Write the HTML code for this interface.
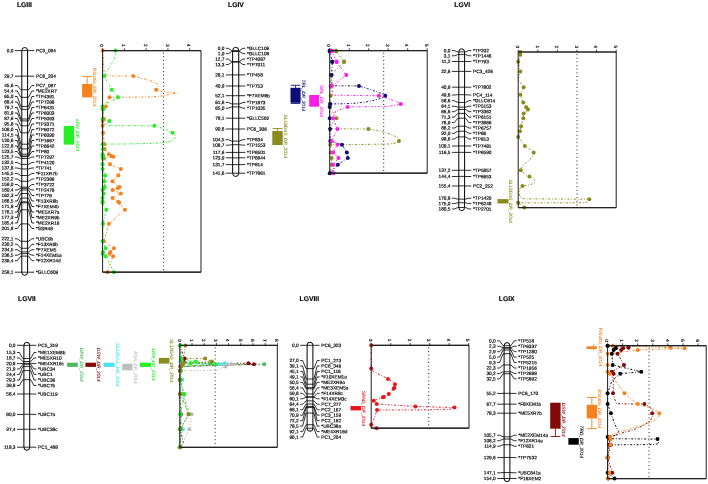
<!DOCTYPE html>
<html><head><meta charset="utf-8"><title>QTL linkage map</title>
<style>
html,body{margin:0;padding:0;background:#fff}
svg{display:block}
svg text{text-rendering:geometricPrecision}
</style></head>
<body>
<svg width="708" height="484" viewBox="0 0 708 484">
<defs><filter id="soft" filterUnits="userSpaceOnUse" x="0" y="0" width="708" height="484" color-interpolation-filters="sRGB"><feGaussianBlur stdDeviation="0.3"/></filter></defs>
<rect width="708" height="484" fill="#fff"/>
<g filter="url(#soft)" font-family='"Liberation Sans", Arial, Helvetica, sans-serif' font-size="4.75" fill="#000" stroke="#000" stroke-width="0">
<text x="16.9" y="6.7" font-size="6.8" font-weight="bold" stroke-width="0.15">LGIII</text>
<path d="M21.8 50.6 A2.9 3.1 0 0 1 27.6 50.6 V272.2 A2.9 3.1 0 0 1 21.8 272.2 Z" fill="#fff" stroke="#000" stroke-width="1.0"/>
<path d="M21.8 50.6H27.6M14.9 50.6H21.8M27.6 50.6H34.3M21.8 76.1H27.6M14.9 76.2H21.8M27.6 76.2H34.3M21.8 89.75H27.6M14.9 85.5H17.3L20.8 89.75H21.8M27.6 89.75H28.6L31.9 85.5H34.3M21.8 97.31H27.6M14.9 91H17.3L20.8 97.31H21.8M27.6 97.31H28.6L31.9 91H34.3M21.8 106.41H27.6M14.9 96.5H17.3L20.8 106.41H21.8M27.6 106.41H28.6L31.9 96.5H34.3M21.8 109.33H27.6M14.9 102H17.3L20.8 109.33H21.8M27.6 109.33H28.6L31.9 102H34.3M21.8 119.03H27.6M14.9 107.5H17.3L20.8 119.03H21.8M27.6 119.03H28.6L31.9 107.5H34.3M21.8 120.92H27.6M14.9 113H17.3L20.8 120.92H21.8M27.6 120.92H28.6L31.9 113H34.3M21.8 125.81H27.6M14.9 118.5H17.3L20.8 125.81H21.8M27.6 125.81H28.6L31.9 118.5H34.3M21.8 132.85H27.6M14.9 124H17.3L20.8 132.85H21.8M27.6 132.85H28.6L31.9 124H34.3M21.8 144.19H27.6M14.9 129.5H17.3L20.8 144.19H21.8M27.6 144.19H28.6L31.9 129.5H34.3M21.8 148.91H27.6M14.9 135H17.3L20.8 148.91H21.8M27.6 148.91H28.6L31.9 135H34.3M21.8 154.14H27.6M14.9 140.5H17.3L20.8 154.14H21.8M27.6 154.14H28.6L31.9 140.5H34.3M21.8 156.03H27.6M14.9 146H17.3L20.8 156.03H21.8M27.6 156.03H28.6L31.9 146H34.3M21.8 156.63H27.6M14.9 151.5H17.3L20.8 156.63H21.8M27.6 156.63H28.6L31.9 151.5H34.3M21.8 158.52H27.6M14.9 157H17.3L20.8 158.52H21.8M27.6 158.52H28.6L31.9 157H34.3M21.8 164.36H27.6M14.9 162.5H17.3L20.8 164.36H21.8M27.6 164.36H28.6L31.9 162.5H34.3M21.8 168.91H27.6M14.9 168H17.3L20.8 168.91H21.8M27.6 168.91H28.6L31.9 168H34.3M21.8 175.52H27.6M14.9 173.5H17.3L20.8 175.52H21.8M27.6 175.52H28.6L31.9 173.5H34.3M21.8 181.28H27.6M14.9 179H17.3L20.8 181.28H21.8M27.6 181.28H28.6L31.9 179H34.3M21.8 187.11H27.6M14.9 184.5H17.3L20.8 187.11H21.8M27.6 187.11H28.6L31.9 184.5H34.3M21.8 188.32H27.6M14.9 190H17.3L20.8 188.32H21.8M27.6 188.32H28.6L31.9 190H34.3M21.8 189.95H27.6M14.9 195.5H17.3L20.8 189.95H21.8M27.6 189.95H28.6L31.9 195.5H34.3M21.8 193.55H27.6M14.9 201H17.3L20.8 193.55H21.8M27.6 193.55H28.6L31.9 201H34.3M21.8 198.1H27.6M14.9 206.5H17.3L20.8 198.1H21.8M27.6 198.1H28.6L31.9 206.5H34.3M21.8 201.8H27.6M14.9 212H17.3L20.8 201.8H21.8M27.6 201.8H28.6L31.9 212H34.3M21.8 202.83H27.6M14.9 217.5H17.3L20.8 202.83H21.8M27.6 202.83H28.6L31.9 217.5H34.3M21.8 209.78H27.6M14.9 223H17.3L20.8 209.78H21.8M27.6 209.78H28.6L31.9 223H34.3M21.8 223.86H27.6M14.9 228.5H17.3L20.8 223.86H21.8M27.6 223.86H28.6L31.9 228.5H34.3M21.8 241.29H27.6M14.9 238.8H17.3L20.8 241.29H21.8M27.6 241.29H28.6L31.9 238.8H34.3M21.8 248.25H27.6M14.9 244.27H17.3L20.8 248.25H21.8M27.6 248.25H28.6L31.9 244.27H34.3M21.8 251.94H27.6M14.9 249.74H17.3L20.8 251.94H21.8M27.6 251.94H28.6L31.9 249.74H34.3M21.8 253.65H27.6M14.9 255.21H17.3L20.8 253.65H21.8M27.6 253.65H28.6L31.9 255.21H34.3M21.8 256.14H27.6M14.9 260.68H17.3L20.8 256.14H21.8M27.6 256.14H28.6L31.9 260.68H34.3M21.8 272.2H27.6M14.9 272.2H21.8M27.6 272.2H34.3" fill="none" stroke="#000" stroke-width="0.82" stroke-linejoin="round"/>
<text x="13.4" y="52.22" transform="rotate(0.2 13.4 52.22)" text-anchor="end" stroke-width="0.18">0,0</text>
<text x="36" y="52.22" transform="rotate(0.2 36 52.22)" stroke-width="0.18">PC3_094</text>
<text x="13.4" y="77.82" transform="rotate(0.2 13.4 77.82)" text-anchor="end" stroke-width="0.18">29,7</text>
<text x="36" y="77.82" transform="rotate(0.2 36 77.82)" stroke-width="0.18">PC6_204</text>
<text x="13.4" y="87.12" transform="rotate(0.2 13.4 87.12)" text-anchor="end" stroke-width="0.18">45,6</text>
<text x="36" y="87.12" transform="rotate(0.2 36 87.12)" stroke-width="0.18">PC7_087</text>
<text x="13.4" y="92.62" transform="rotate(0.2 13.4 92.62)" text-anchor="end" stroke-width="0.18">54,4</text>
<text x="36" y="92.62" transform="rotate(0.2 36 92.62)" stroke-width="0.18">*ME2XR7</text>
<text x="13.4" y="98.12" transform="rotate(0.2 13.4 98.12)" text-anchor="end" stroke-width="0.18">65,0</text>
<text x="36" y="98.12" transform="rotate(0.2 36 98.12)" stroke-width="0.18">*TP4391</text>
<text x="13.4" y="103.62" transform="rotate(0.2 13.4 103.62)" text-anchor="end" stroke-width="0.18">68,4</text>
<text x="36" y="103.62" transform="rotate(0.2 36 103.62)" stroke-width="0.18">*TP7288</text>
<text x="13.4" y="109.12" transform="rotate(0.2 13.4 109.12)" text-anchor="end" stroke-width="0.18">79,7</text>
<text x="36" y="109.12" transform="rotate(0.2 36 109.12)" stroke-width="0.18">*TP6431</text>
<text x="13.4" y="114.62" transform="rotate(0.2 13.4 114.62)" text-anchor="end" stroke-width="0.18">81,9</text>
<text x="36" y="114.62" transform="rotate(0.2 36 114.62)" stroke-width="0.18">*TP6003</text>
<text x="13.4" y="120.12" transform="rotate(0.2 13.4 120.12)" text-anchor="end" stroke-width="0.18">87,6</text>
<text x="36" y="120.12" transform="rotate(0.2 36 120.12)" stroke-width="0.18">*TP5093</text>
<text x="13.4" y="125.62" transform="rotate(0.2 13.4 125.62)" text-anchor="end" stroke-width="0.18">95,8</text>
<text x="36" y="125.62" transform="rotate(0.2 36 125.62)" stroke-width="0.18">*TP3371</text>
<text x="13.4" y="131.12" transform="rotate(0.2 13.4 131.12)" text-anchor="end" stroke-width="0.18">109,0</text>
<text x="36" y="131.12" transform="rotate(0.2 36 131.12)" stroke-width="0.18">*TP6072</text>
<text x="13.4" y="136.62" transform="rotate(0.2 13.4 136.62)" text-anchor="end" stroke-width="0.18">114,5</text>
<text x="36" y="136.62" transform="rotate(0.2 36 136.62)" stroke-width="0.18">*TP6090</text>
<text x="13.4" y="142.12" transform="rotate(0.2 13.4 142.12)" text-anchor="end" stroke-width="0.18">120,6</text>
<text x="36" y="142.12" transform="rotate(0.2 36 142.12)" stroke-width="0.18">*TP1667</text>
<text x="13.4" y="147.62" transform="rotate(0.2 13.4 147.62)" text-anchor="end" stroke-width="0.18">122,8</text>
<text x="36" y="147.62" transform="rotate(0.2 36 147.62)" stroke-width="0.18">*TP6642</text>
<text x="13.4" y="153.12" transform="rotate(0.2 13.4 153.12)" text-anchor="end" stroke-width="0.18">123,5</text>
<text x="36" y="153.12" transform="rotate(0.2 36 153.12)" stroke-width="0.18">*TP80</text>
<text x="13.4" y="158.62" transform="rotate(0.2 13.4 158.62)" text-anchor="end" stroke-width="0.18">125,7</text>
<text x="36" y="158.62" transform="rotate(0.2 36 158.62)" stroke-width="0.18">*TP7297</text>
<text x="13.4" y="164.12" transform="rotate(0.2 13.4 164.12)" text-anchor="end" stroke-width="0.18">132,5</text>
<text x="36" y="164.12" transform="rotate(0.2 36 164.12)" stroke-width="0.18">*TP4120</text>
<text x="13.4" y="169.62" transform="rotate(0.2 13.4 169.62)" text-anchor="end" stroke-width="0.18">137,8</text>
<text x="36" y="169.62" transform="rotate(0.2 36 169.62)" stroke-width="0.18">*TP741</text>
<text x="13.4" y="175.12" transform="rotate(0.2 13.4 175.12)" text-anchor="end" stroke-width="0.18">145,5</text>
<text x="36" y="175.12" transform="rotate(0.2 36 175.12)" stroke-width="0.18">*F11XR7b</text>
<text x="13.4" y="180.62" transform="rotate(0.2 13.4 180.62)" text-anchor="end" stroke-width="0.18">152,2</text>
<text x="36" y="180.62" transform="rotate(0.2 36 180.62)" stroke-width="0.18">*TP2386</text>
<text x="13.4" y="186.12" transform="rotate(0.2 13.4 186.12)" text-anchor="end" stroke-width="0.18">159,0</text>
<text x="36" y="186.12" transform="rotate(0.2 36 186.12)" stroke-width="0.18">*TP3722</text>
<text x="13.4" y="191.62" transform="rotate(0.2 13.4 191.62)" text-anchor="end" stroke-width="0.18">160,4</text>
<text x="36" y="191.62" transform="rotate(0.2 36 191.62)" stroke-width="0.18">*TP2478</text>
<text x="13.4" y="197.12" transform="rotate(0.2 13.4 197.12)" text-anchor="end" stroke-width="0.18">162,3</text>
<text x="36" y="197.12" transform="rotate(0.2 36 197.12)" stroke-width="0.18">*TP776</text>
<text x="13.4" y="202.62" transform="rotate(0.2 13.4 202.62)" text-anchor="end" stroke-width="0.18">166,5</text>
<text x="36" y="202.62" transform="rotate(0.2 36 202.62)" stroke-width="0.18">*F13XR8b</text>
<text x="13.4" y="208.12" transform="rotate(0.2 13.4 208.12)" text-anchor="end" stroke-width="0.18">171,8</text>
<text x="36" y="208.12" transform="rotate(0.2 36 208.12)" stroke-width="0.18">*F7XEM4b</text>
<text x="13.4" y="213.62" transform="rotate(0.2 13.4 213.62)" text-anchor="end" stroke-width="0.18">176,1</text>
<text x="36" y="213.62" transform="rotate(0.2 36 213.62)" stroke-width="0.18">*ME5XR7a</text>
<text x="13.4" y="219.12" transform="rotate(0.2 13.4 219.12)" text-anchor="end" stroke-width="0.18">177,3</text>
<text x="36" y="219.12" transform="rotate(0.2 36 219.12)" stroke-width="0.18">*ME2XR9b</text>
<text x="13.4" y="224.62" transform="rotate(0.2 13.4 224.62)" text-anchor="end" stroke-width="0.18">185,4</text>
<text x="36" y="224.62" transform="rotate(0.2 36 224.62)" stroke-width="0.18">*ME2XR16</text>
<text x="13.4" y="230.12" transform="rotate(0.2 13.4 230.12)" text-anchor="end" stroke-width="0.18">201,8</text>
<text x="36" y="230.12" transform="rotate(0.2 36 230.12)" stroke-width="0.18">*SSR48</text>
<text x="13.4" y="240.42" transform="rotate(0.2 13.4 240.42)" text-anchor="end" stroke-width="0.18">222,1</text>
<text x="36" y="240.42" transform="rotate(0.2 36 240.42)" stroke-width="0.18">*UBC9b</text>
<text x="13.4" y="245.89" transform="rotate(0.2 13.4 245.89)" text-anchor="end" stroke-width="0.18">230,2</text>
<text x="36" y="245.89" transform="rotate(0.2 36 245.89)" stroke-width="0.18">*F13XR9b</text>
<text x="13.4" y="251.36" transform="rotate(0.2 13.4 251.36)" text-anchor="end" stroke-width="0.18">234,5</text>
<text x="36" y="251.36" transform="rotate(0.2 36 251.36)" stroke-width="0.18">*F7XEM5</text>
<text x="13.4" y="256.83" transform="rotate(0.2 13.4 256.83)" text-anchor="end" stroke-width="0.18">236,5</text>
<text x="36" y="256.83" transform="rotate(0.2 36 256.83)" stroke-width="0.18">*F14XEM5a</text>
<text x="13.4" y="262.3" transform="rotate(0.2 13.4 262.3)" text-anchor="end" stroke-width="0.18">239,4</text>
<text x="36" y="262.3" transform="rotate(0.2 36 262.3)" stroke-width="0.18">*F12XR14d</text>
<text x="13.4" y="273.82" transform="rotate(0.2 13.4 273.82)" text-anchor="end" stroke-width="0.18">258,1</text>
<text x="36" y="273.82" transform="rotate(0.2 36 273.82)" stroke-width="0.18">*GLLC609</text>
<path d="M87.15 84V76.5M82.4 76.5H91.9" stroke="#F5821F" stroke-width="0.9" fill="none"/>
<rect x="82.1" y="84" width="10.1" height="13.4" fill="#F5821F"/>
<text transform="translate(93.4 87) rotate(90)" text-anchor="middle" font-style="italic" font-size="4.75" fill="#F5821F" stroke="#F5821F" stroke-width="0.08">RSratio_DR_2014</text>
<rect x="63.7" y="125.9" width="10.3" height="18.7" fill="#24F024"/>
<text transform="translate(75.6 135.3) rotate(90)" text-anchor="middle" font-style="italic" font-size="4.75" fill="#24F024" stroke="#24F024" stroke-width="0.08">LRN_DR_2014</text>
<path d="M163.56 52.6V271.2" stroke="#111" stroke-width="0.95" stroke-dasharray="1 2.67" fill="none"/>
<path d="M102.6 50.6L104.34 74.64L113.48 75.93L133.3 76.1L143.96 78.93L152.67 81.51L157.46 83.91L158.11 86.66L156.15 89.75L159.64 90.95L167.91 92.24L177.27 93.01L170.09 94.39L163.56 95.85L150.49 96.96L128.72 97.22L109.57 97.31L106.95 102.11L105.87 106.41L102.6 109.33L103.91 119.03L102.6 120.92L102.6 125.81L103.04 132.85L104.56 144.19L104.56 148.91L108.91 154.14L111.31 156.03L113.48 156.63L104.12 158.52L110 164.36L120.89 168.91L118.27 175.52L112.4 181.28L119.58 187.11L117.84 188.32L112.61 189.95L120.89 193.55L112.61 198.1L118.27 201.8L119.15 202.83L125.02 209.78L108.91 223.86L103.91 241.29L113.92 248.25L110.44 251.94L109.57 253.65L113.05 256.14L107.39 272.2" fill="none" stroke="#F5821F" stroke-width="0.95" stroke-dasharray="2.1 1.7 0.9 1.7" stroke-linejoin="round"/>
<path d="M115.44 50.6L115.66 54.03L114.79 57.47L113.48 60.9L110.87 65.2L108.26 69.49L105.87 72.92L104.34 76.1L105.87 79.79L108.04 83.23L110 86.66L111.74 89.75L115.23 93.53L118.06 97.31L116.1 98.68L110.87 101.26L105.87 103.83L102.6 106.41L103.25 109.33L102.6 119.03L109.35 120.92L104.34 124.44L109.13 125.64L154.41 125.81L161.38 127.87L167.26 130.02L172.48 132.85L174.44 134.74L175.31 136.89L174.44 139.03L172.26 140.75L165.73 142.3L152.67 143.33L128.72 143.93L102.6 144.19L103.04 148.91L102.6 154.14L103.25 156.03L102.6 156.63L103.04 158.52L102.6 164.36L102.6 168.91L105.21 175.52L104.34 181.28L104.78 187.11L103.69 188.32L102.6 189.95L103.69 193.55L102.6 198.1L102.6 201.8L102.6 202.83L106.3 209.78L103.04 223.86L102.6 241.29L105.65 248.25L103.04 251.94L102.6 253.65L105.65 256.14L113.92 272.2" fill="none" stroke="#24F024" stroke-width="0.95" stroke-dasharray="2.1 1.7 0.9 1.7" stroke-linejoin="round"/>
<circle cx="102.6" cy="50.6" r="2.0" fill="#F5821F"/>
<circle cx="133.3" cy="76.1" r="2.0" fill="#F5821F"/>
<circle cx="156.15" cy="89.75" r="2.0" fill="#F5821F"/>
<circle cx="109.57" cy="97.31" r="2.0" fill="#F5821F"/>
<circle cx="105.87" cy="106.41" r="2.0" fill="#F5821F"/>
<circle cx="102.6" cy="109.33" r="2.0" fill="#F5821F"/>
<circle cx="103.91" cy="119.03" r="2.0" fill="#F5821F"/>
<circle cx="102.6" cy="120.92" r="2.0" fill="#F5821F"/>
<circle cx="102.6" cy="125.81" r="2.0" fill="#F5821F"/>
<circle cx="103.04" cy="132.85" r="2.0" fill="#F5821F"/>
<circle cx="104.56" cy="144.19" r="2.0" fill="#F5821F"/>
<circle cx="104.56" cy="148.91" r="2.0" fill="#F5821F"/>
<circle cx="108.91" cy="154.14" r="2.0" fill="#F5821F"/>
<circle cx="111.31" cy="156.03" r="2.0" fill="#F5821F"/>
<circle cx="113.48" cy="156.63" r="2.0" fill="#F5821F"/>
<circle cx="104.12" cy="158.52" r="2.0" fill="#F5821F"/>
<circle cx="110" cy="164.36" r="2.0" fill="#F5821F"/>
<circle cx="120.89" cy="168.91" r="2.0" fill="#F5821F"/>
<circle cx="118.27" cy="175.52" r="2.0" fill="#F5821F"/>
<circle cx="112.4" cy="181.28" r="2.0" fill="#F5821F"/>
<circle cx="119.58" cy="187.11" r="2.0" fill="#F5821F"/>
<circle cx="117.84" cy="188.32" r="2.0" fill="#F5821F"/>
<circle cx="112.61" cy="189.95" r="2.0" fill="#F5821F"/>
<circle cx="120.89" cy="193.55" r="2.0" fill="#F5821F"/>
<circle cx="112.61" cy="198.1" r="2.0" fill="#F5821F"/>
<circle cx="118.27" cy="201.8" r="2.0" fill="#F5821F"/>
<circle cx="119.15" cy="202.83" r="2.0" fill="#F5821F"/>
<circle cx="125.02" cy="209.78" r="2.0" fill="#F5821F"/>
<circle cx="108.91" cy="223.86" r="2.0" fill="#F5821F"/>
<circle cx="103.91" cy="241.29" r="2.0" fill="#F5821F"/>
<circle cx="113.92" cy="248.25" r="2.0" fill="#F5821F"/>
<circle cx="110.44" cy="251.94" r="2.0" fill="#F5821F"/>
<circle cx="109.57" cy="253.65" r="2.0" fill="#F5821F"/>
<circle cx="113.05" cy="256.14" r="2.0" fill="#F5821F"/>
<circle cx="107.39" cy="272.2" r="2.0" fill="#F5821F"/>
<circle cx="115.44" cy="50.6" r="2.0" fill="#24F024"/>
<circle cx="104.34" cy="76.1" r="2.0" fill="#24F024"/>
<circle cx="111.74" cy="89.75" r="2.0" fill="#24F024"/>
<circle cx="118.06" cy="97.31" r="2.0" fill="#24F024"/>
<circle cx="102.6" cy="106.41" r="2.0" fill="#24F024"/>
<circle cx="103.25" cy="109.33" r="2.0" fill="#24F024"/>
<circle cx="102.6" cy="119.03" r="2.0" fill="#24F024"/>
<circle cx="109.35" cy="120.92" r="2.0" fill="#24F024"/>
<circle cx="154.41" cy="125.81" r="2.0" fill="#24F024"/>
<circle cx="172.48" cy="132.85" r="2.0" fill="#24F024"/>
<circle cx="102.6" cy="144.19" r="2.0" fill="#24F024"/>
<circle cx="103.04" cy="148.91" r="2.0" fill="#24F024"/>
<circle cx="102.6" cy="154.14" r="2.0" fill="#24F024"/>
<circle cx="103.25" cy="156.03" r="2.0" fill="#24F024"/>
<circle cx="102.6" cy="156.63" r="2.0" fill="#24F024"/>
<circle cx="103.04" cy="158.52" r="2.0" fill="#24F024"/>
<circle cx="102.6" cy="164.36" r="2.0" fill="#24F024"/>
<circle cx="102.6" cy="168.91" r="2.0" fill="#24F024"/>
<circle cx="105.21" cy="175.52" r="2.0" fill="#24F024"/>
<circle cx="104.34" cy="181.28" r="2.0" fill="#24F024"/>
<circle cx="104.78" cy="187.11" r="2.0" fill="#24F024"/>
<circle cx="103.69" cy="188.32" r="2.0" fill="#24F024"/>
<circle cx="102.6" cy="189.95" r="2.0" fill="#24F024"/>
<circle cx="103.69" cy="193.55" r="2.0" fill="#24F024"/>
<circle cx="102.6" cy="198.1" r="2.0" fill="#24F024"/>
<circle cx="102.6" cy="201.8" r="2.0" fill="#24F024"/>
<circle cx="102.6" cy="202.83" r="2.0" fill="#24F024"/>
<circle cx="106.3" cy="209.78" r="2.0" fill="#24F024"/>
<circle cx="103.04" cy="223.86" r="2.0" fill="#24F024"/>
<circle cx="102.6" cy="241.29" r="2.0" fill="#24F024"/>
<circle cx="105.65" cy="248.25" r="2.0" fill="#24F024"/>
<circle cx="103.04" cy="251.94" r="2.0" fill="#24F024"/>
<circle cx="102.6" cy="253.65" r="2.0" fill="#24F024"/>
<circle cx="105.65" cy="256.14" r="2.0" fill="#24F024"/>
<circle cx="113.92" cy="272.2" r="2.0" fill="#24F024"/>
<path d="M102.6 50.6H201V272.2H102.6Z" fill="none" stroke="#111" stroke-width="0.95"/>
<path d="M102.6 50.6H201M102.6 272.2H201" fill="none" stroke="#222" stroke-width="1.2"/>
<text transform="translate(100.3 45.4) rotate(90)" text-anchor="middle" font-size="4.7" stroke-width="0.15">0</text>
<text transform="translate(122.07 45.4) rotate(90)" text-anchor="middle" font-size="4.7" stroke-width="0.15">1</text>
<text transform="translate(143.84 45.4) rotate(90)" text-anchor="middle" font-size="4.7" stroke-width="0.15">2</text>
<text transform="translate(165.61 45.4) rotate(90)" text-anchor="middle" font-size="4.7" stroke-width="0.15">3</text>
<text transform="translate(187.38 45.4) rotate(90)" text-anchor="middle" font-size="4.7" stroke-width="0.15">4</text>
<path d="M102.6 50.6v-2.3M124.37 50.6v-2.3M146.14 50.6v-2.3M167.91 50.6v-2.3M189.68 50.6v-2.3" stroke="#111" stroke-width="0.8" fill="none"/>
<text x="228" y="6.7" font-size="6.8" font-weight="bold" stroke-width="0.15">LGIV</text>
<path d="M232.65 50.6 A3.05 3.25 0 0 1 238.75 50.6 V173.2 A3.05 3.25 0 0 1 232.65 173.2 Z" fill="#fff" stroke="#000" stroke-width="1.0"/>
<path d="M232.65 50.6H238.75M225.9 48.3H228.3L231.8 50.6H232.65M238.75 50.6H239.6L242.9 48.3H245.3M232.65 51.47H238.75M225.9 53.6H228.3L231.8 51.47H232.65M238.75 51.47H239.6L242.9 53.6H245.3M232.65 61.6H238.75M225.9 59.1H228.3L231.8 61.6H232.65M238.75 61.6H239.6L242.9 59.1H245.3M232.65 62.12H238.75M225.9 64.6H228.3L231.8 62.12H232.65M238.75 62.12H239.6L242.9 64.6H245.3M232.65 74.93H238.75M225.9 74.9H232.65M238.75 74.9H245.3M232.65 86.01H238.75M225.9 86H232.65M238.75 86H245.3M232.65 95.71H238.75M225.9 95.7H232.65M238.75 95.7H245.3M232.65 103.93H238.75M225.9 102.5H228.3L231.8 103.93H232.65M238.75 103.93H239.6L242.9 102.5H245.3M232.65 106.88H238.75M225.9 108.2H228.3L231.8 106.88H232.65M238.75 106.88H239.6L242.9 108.2H245.3M232.65 118.22H238.75M225.9 118.2H232.65M238.75 118.2H245.3M232.65 129.04H238.75M225.9 129H232.65M238.75 129H245.3M232.65 141.08H238.75M225.9 139.6H228.3L231.8 141.08H232.65M238.75 141.08H239.6L242.9 139.6H245.3M232.65 144.71H238.75M225.9 145.2H228.3L231.8 144.71H232.65M238.75 144.71H239.6L242.9 145.2H245.3M232.65 152.42H238.75M225.9 152.4H232.65M238.75 152.4H245.3M232.65 157.88H238.75M225.9 157.8H232.65M238.75 157.8H245.3M232.65 164.63H238.75M225.9 164.6H232.65M238.75 164.6H245.3M232.65 173.2H238.75M225.9 173.2H232.65M238.75 173.2H245.3" fill="none" stroke="#000" stroke-width="0.82" stroke-linejoin="round"/>
<text x="224.4" y="49.92" transform="rotate(0.2 224.4 49.92)" text-anchor="end" stroke-width="0.18">0,0</text>
<text x="247" y="49.92" transform="rotate(0.2 247 49.92)" stroke-width="0.18">*GLLC106</text>
<text x="224.4" y="55.22" transform="rotate(0.2 224.4 55.22)" text-anchor="end" stroke-width="0.18">1,0</text>
<text x="247" y="55.22" transform="rotate(0.2 247 55.22)" stroke-width="0.18">*GLLC108</text>
<text x="224.4" y="60.72" transform="rotate(0.2 224.4 60.72)" text-anchor="end" stroke-width="0.18">12,7</text>
<text x="247" y="60.72" transform="rotate(0.2 247 60.72)" stroke-width="0.18">*TP4087</text>
<text x="224.4" y="66.22" transform="rotate(0.2 224.4 66.22)" text-anchor="end" stroke-width="0.18">13,3</text>
<text x="247" y="66.22" transform="rotate(0.2 247 66.22)" stroke-width="0.18">*TP7011</text>
<text x="224.4" y="76.52" transform="rotate(0.2 224.4 76.52)" text-anchor="end" stroke-width="0.18">28,1</text>
<text x="247" y="76.52" transform="rotate(0.2 247 76.52)" stroke-width="0.18">*TP458</text>
<text x="224.4" y="87.62" transform="rotate(0.2 224.4 87.62)" text-anchor="end" stroke-width="0.18">40,9</text>
<text x="247" y="87.62" transform="rotate(0.2 247 87.62)" stroke-width="0.18">*TP753</text>
<text x="224.4" y="97.32" transform="rotate(0.2 224.4 97.32)" text-anchor="end" stroke-width="0.18">52,1</text>
<text x="247" y="97.32" transform="rotate(0.2 247 97.32)" stroke-width="0.18">*F7XEM6b</text>
<text x="224.4" y="104.12" transform="rotate(0.2 224.4 104.12)" text-anchor="end" stroke-width="0.18">61,6</text>
<text x="247" y="104.12" transform="rotate(0.2 247 104.12)" stroke-width="0.18">*TP1873</text>
<text x="224.4" y="109.82" transform="rotate(0.2 224.4 109.82)" text-anchor="end" stroke-width="0.18">65,0</text>
<text x="247" y="109.82" transform="rotate(0.2 247 109.82)" stroke-width="0.18">*TP1035</text>
<text x="224.4" y="119.82" transform="rotate(0.2 224.4 119.82)" text-anchor="end" stroke-width="0.18">78,1</text>
<text x="247" y="119.82" transform="rotate(0.2 247 119.82)" stroke-width="0.18">*GLLC562</text>
<text x="224.4" y="130.62" transform="rotate(0.2 224.4 130.62)" text-anchor="end" stroke-width="0.18">90,6</text>
<text x="247" y="130.62" transform="rotate(0.2 247 130.62)" stroke-width="0.18">PC6_306</text>
<text x="224.4" y="141.22" transform="rotate(0.2 224.4 141.22)" text-anchor="end" stroke-width="0.18">104,5</text>
<text x="247" y="141.22" transform="rotate(0.2 247 141.22)" stroke-width="0.18">*TP834</text>
<text x="224.4" y="146.82" transform="rotate(0.2 224.4 146.82)" text-anchor="end" stroke-width="0.18">108,7</text>
<text x="247" y="146.82" transform="rotate(0.2 247 146.82)" stroke-width="0.18">*TP1553</text>
<text x="224.4" y="154.02" transform="rotate(0.2 224.4 154.02)" text-anchor="end" stroke-width="0.18">117,6</text>
<text x="247" y="154.02" transform="rotate(0.2 247 154.02)" stroke-width="0.18">*TP6501</text>
<text x="224.4" y="159.42" transform="rotate(0.2 224.4 159.42)" text-anchor="end" stroke-width="0.18">123,9</text>
<text x="247" y="159.42" transform="rotate(0.2 247 159.42)" stroke-width="0.18">*TP6844</text>
<text x="224.4" y="166.22" transform="rotate(0.2 224.4 166.22)" text-anchor="end" stroke-width="0.18">131,7</text>
<text x="247" y="166.22" transform="rotate(0.2 247 166.22)" stroke-width="0.18">*TP814</text>
<text x="224.4" y="174.82" transform="rotate(0.2 224.4 174.82)" text-anchor="end" stroke-width="0.18">141,6</text>
<text x="247" y="174.82" transform="rotate(0.2 247 174.82)" stroke-width="0.18">*TP7861</text>
<path d="M277.5 130.9V128.5M272.6 128.5H282.4" stroke="#8B8B1F" stroke-width="0.9" fill="none"/>
<rect x="272.3" y="130.9" width="10.4" height="14.1" fill="#8B8B1F"/>
<text transform="translate(284.1 136.3) rotate(90)" text-anchor="middle" font-style="italic" font-size="4.75" fill="#8B8B1F" stroke="#8B8B1F" stroke-width="0.08">SL18DAS_DR_2014</text>
<path d="M295.55 87.8V85.3M290.8 85.3H300.3M295.55 102.8V103.4M290.8 103.4H300.3" stroke="#0D0D74" stroke-width="0.9" fill="none"/>
<rect x="290.5" y="87.8" width="10.1" height="15" fill="#0D0D74"/>
<text transform="translate(302.3 95.4) rotate(90)" text-anchor="middle" font-style="italic" font-size="4.75" fill="#0D0D74" stroke="#0D0D74" stroke-width="0.08">TRL_DR_2014</text>
<rect x="309.2" y="95" width="9.8" height="11.7" fill="#FA1EE6"/>
<text transform="translate(320.2 101) rotate(90)" text-anchor="middle" font-style="italic" font-size="4.75" fill="#FA1EE6" stroke="#FA1EE6" stroke-width="0.08">SRL_DR_2014</text>
<path d="M383.71 52.6V172.2" stroke="#111" stroke-width="0.95" stroke-dasharray="1 2.67" fill="none"/>
<path d="M336.13 50.6L336.13 51.47L344.13 61.6L344.13 62.12L330.68 74.93L330.68 86.01L330.68 95.71L329.7 103.93L329.7 106.88L336.52 118.22L331.65 124.19L331.65 128.7L368.31 129.04L376.5 130.26L383.32 131.9L389.17 133.72L393.46 135.45L396.98 137.18L399.51 138.91L398.92 141.08L396.98 142.81L390.15 143.94L358.95 144.54L330.28 144.71L330.68 152.42L331.65 157.88L331.65 164.63L330.28 173.2" fill="none" stroke="#8B8B1F" stroke-width="0.95" stroke-dasharray="2.1 1.7 0.9 1.7" stroke-linejoin="round"/>
<path d="M329.7 50.6L329.7 51.47L332.24 61.6L332.24 62.12L331.65 74.93L332.04 85.67L358.95 86.01L367.72 88.7L375.52 91.29L382.35 93.89L385.27 95.71L383.32 97.35L378.45 99.09L371.62 100.82L364.8 102.2L355.05 103.24L343.35 103.76L330.28 103.93L329.7 106.88L329.7 118.22L330.09 129.04L330.28 141.08L341.99 144.71L346.86 152.42L347.83 157.88L337.89 164.63L329.7 173.2" fill="none" stroke="#0D0D74" stroke-width="0.95" stroke-dasharray="2.1 1.7 0.9 1.7" stroke-linejoin="round"/>
<path d="M331.84 50.6L331.84 51.47L336.52 61.6L336.52 62.12L346.27 74.93L331.84 86.01L332.62 95.19L378.84 95.71L387.23 98.22L395.02 100.82L400.88 103.93L396.98 105.15L388.2 106.27L372.6 106.71L347.64 106.88L335.55 111.21L333.21 118.22L337.5 129.04L331.65 141.08L337.5 144.71L333.21 152.42L338.47 157.88L333.21 164.63L333.6 173.2" fill="none" stroke="#FA1EE6" stroke-width="0.95" stroke-dasharray="2.1 1.7 0.9 1.7" stroke-linejoin="round"/>
<circle cx="336.13" cy="50.6" r="2.0" fill="#8B8B1F"/>
<circle cx="336.13" cy="51.47" r="2.0" fill="#8B8B1F"/>
<circle cx="344.13" cy="61.6" r="2.0" fill="#8B8B1F"/>
<circle cx="344.13" cy="62.12" r="2.0" fill="#8B8B1F"/>
<circle cx="330.68" cy="74.93" r="2.0" fill="#8B8B1F"/>
<circle cx="330.68" cy="86.01" r="2.0" fill="#8B8B1F"/>
<circle cx="330.68" cy="95.71" r="2.0" fill="#8B8B1F"/>
<circle cx="329.7" cy="103.93" r="2.0" fill="#8B8B1F"/>
<circle cx="329.7" cy="106.88" r="2.0" fill="#8B8B1F"/>
<circle cx="336.52" cy="118.22" r="2.0" fill="#8B8B1F"/>
<circle cx="368.31" cy="129.04" r="2.0" fill="#8B8B1F"/>
<circle cx="398.92" cy="141.08" r="2.0" fill="#8B8B1F"/>
<circle cx="330.28" cy="144.71" r="2.0" fill="#8B8B1F"/>
<circle cx="330.68" cy="152.42" r="2.0" fill="#8B8B1F"/>
<circle cx="331.65" cy="157.88" r="2.0" fill="#8B8B1F"/>
<circle cx="331.65" cy="164.63" r="2.0" fill="#8B8B1F"/>
<circle cx="330.28" cy="173.2" r="2.0" fill="#8B8B1F"/>
<circle cx="329.7" cy="50.6" r="2.0" fill="#0D0D74"/>
<circle cx="329.7" cy="51.47" r="2.0" fill="#0D0D74"/>
<circle cx="332.24" cy="61.6" r="2.0" fill="#0D0D74"/>
<circle cx="332.24" cy="62.12" r="2.0" fill="#0D0D74"/>
<circle cx="331.65" cy="74.93" r="2.0" fill="#0D0D74"/>
<circle cx="358.95" cy="86.01" r="2.0" fill="#0D0D74"/>
<circle cx="385.27" cy="95.71" r="2.0" fill="#0D0D74"/>
<circle cx="330.28" cy="103.93" r="2.0" fill="#0D0D74"/>
<circle cx="329.7" cy="106.88" r="2.0" fill="#0D0D74"/>
<circle cx="329.7" cy="118.22" r="2.0" fill="#0D0D74"/>
<circle cx="330.09" cy="129.04" r="2.0" fill="#0D0D74"/>
<circle cx="330.28" cy="141.08" r="2.0" fill="#0D0D74"/>
<circle cx="341.99" cy="144.71" r="2.0" fill="#0D0D74"/>
<circle cx="346.86" cy="152.42" r="2.0" fill="#0D0D74"/>
<circle cx="347.83" cy="157.88" r="2.0" fill="#0D0D74"/>
<circle cx="337.89" cy="164.63" r="2.0" fill="#0D0D74"/>
<circle cx="329.7" cy="173.2" r="2.0" fill="#0D0D74"/>
<circle cx="331.84" cy="50.6" r="2.0" fill="#FA1EE6"/>
<circle cx="331.84" cy="51.47" r="2.0" fill="#FA1EE6"/>
<circle cx="336.52" cy="61.6" r="2.0" fill="#FA1EE6"/>
<circle cx="336.52" cy="62.12" r="2.0" fill="#FA1EE6"/>
<circle cx="346.27" cy="74.93" r="2.0" fill="#FA1EE6"/>
<circle cx="331.84" cy="86.01" r="2.0" fill="#FA1EE6"/>
<circle cx="378.84" cy="95.71" r="2.0" fill="#FA1EE6"/>
<circle cx="400.88" cy="103.93" r="2.0" fill="#FA1EE6"/>
<circle cx="347.64" cy="106.88" r="2.0" fill="#FA1EE6"/>
<circle cx="333.21" cy="118.22" r="2.0" fill="#FA1EE6"/>
<circle cx="337.5" cy="129.04" r="2.0" fill="#FA1EE6"/>
<circle cx="331.65" cy="141.08" r="2.0" fill="#FA1EE6"/>
<circle cx="337.5" cy="144.71" r="2.0" fill="#FA1EE6"/>
<circle cx="333.21" cy="152.42" r="2.0" fill="#FA1EE6"/>
<circle cx="338.47" cy="157.88" r="2.0" fill="#FA1EE6"/>
<circle cx="333.21" cy="164.63" r="2.0" fill="#FA1EE6"/>
<circle cx="333.6" cy="173.2" r="2.0" fill="#FA1EE6"/>
<path d="M329.7 50.6H427.2V173.2H329.7Z" fill="none" stroke="#111" stroke-width="0.95"/>
<path d="M329.7 50.6H427.2M329.7 173.2H427.2" fill="none" stroke="#222" stroke-width="1.2"/>
<text transform="translate(327.4 45.4) rotate(90)" text-anchor="middle" font-size="4.7" stroke-width="0.15">0</text>
<text transform="translate(346.9 45.4) rotate(90)" text-anchor="middle" font-size="4.7" stroke-width="0.15">1</text>
<text transform="translate(366.4 45.4) rotate(90)" text-anchor="middle" font-size="4.7" stroke-width="0.15">2</text>
<text transform="translate(385.9 45.4) rotate(90)" text-anchor="middle" font-size="4.7" stroke-width="0.15">3</text>
<text transform="translate(405.4 45.4) rotate(90)" text-anchor="middle" font-size="4.7" stroke-width="0.15">4</text>
<text transform="translate(424.9 45.4) rotate(90)" text-anchor="middle" font-size="4.7" stroke-width="0.15">5</text>
<path d="M329.7 50.6v-2.3M349.2 50.6v-2.3M368.7 50.6v-2.3M388.2 50.6v-2.3M407.7 50.6v-2.3M427.2 50.6v-2.3" stroke="#111" stroke-width="0.8" fill="none"/>
<text x="454.3" y="6.7" font-size="6.8" font-weight="bold" stroke-width="0.15">LGVI</text>
<path d="M458.8 51.9 A2.9 3.1 0 0 1 464.6 51.9 V207.5 A2.9 3.1 0 0 1 458.8 207.5 Z" fill="#fff" stroke="#000" stroke-width="1.0"/>
<path d="M458.8 51.9H464.6M451.9 50.6H454.3L457.8 51.9H458.8M464.6 51.9H465.6L468.9 50.6H471.3M458.8 54.57H464.6M451.9 55.8H454.3L457.8 54.57H458.8M464.6 54.57H465.6L468.9 55.8H471.3M458.8 61.55H464.6M451.9 61.5H458.8M464.6 61.5H471.3M458.8 71.38H464.6M451.9 71.4H458.8M464.6 71.4H471.3M458.8 87.16H464.6M451.9 87.2H458.8M464.6 87.2H471.3M458.8 94.66H464.6M451.9 95H454.3L457.8 94.66H458.8M464.6 94.66H465.6L468.9 95H471.3M458.8 102.42H464.6M451.9 100.7H454.3L457.8 102.42H458.8M464.6 102.42H465.6L468.9 100.7H471.3M458.8 107.16H464.6M451.9 106.2H454.3L457.8 107.16H458.8M464.6 107.16H465.6L468.9 106.2H471.3M458.8 109.48H464.6M451.9 111.7H454.3L457.8 109.48H458.8M464.6 109.48H465.6L468.9 111.7H471.3M458.8 113.36H464.6M451.9 117.2H454.3L457.8 113.36H458.8M464.6 113.36H465.6L468.9 117.2H471.3M458.8 118.19H464.6M451.9 122.6H454.3L457.8 118.19H458.8M464.6 118.19H465.6L468.9 122.6H471.3M458.8 126.21H464.6M451.9 128H454.3L457.8 126.21H458.8M464.6 126.21H465.6L468.9 128H471.3M458.8 131.21H464.6M451.9 133.3H454.3L457.8 131.21H458.8M464.6 131.21H465.6L468.9 133.3H471.3M458.8 136.9H464.6M451.9 139H454.3L457.8 136.9H458.8M464.6 136.9H465.6L468.9 139H471.3M458.8 145.95H464.6M451.9 146H458.8M464.6 146H471.3M458.8 152.33H464.6M451.9 152.4H458.8M464.6 152.4H471.3M458.8 170.17H464.6M451.9 170.3H458.8M464.6 170.3H471.3M458.8 176.38H464.6M451.9 176.5H458.8M464.6 176.5H471.3M458.8 185.86H464.6M451.9 186H458.8M464.6 186H471.3M458.8 199.14H464.6M451.9 198.2H454.3L457.8 199.14H458.8M464.6 199.14H465.6L468.9 198.2H471.3M458.8 202.76H464.6M451.9 203.6H454.3L457.8 202.76H458.8M464.6 202.76H465.6L468.9 203.6H471.3M458.8 207.5H464.6M451.9 209H454.3L457.8 207.5H458.8M464.6 207.5H465.6L468.9 209H471.3" fill="none" stroke="#000" stroke-width="0.82" stroke-linejoin="round"/>
<text x="450.4" y="52.22" transform="rotate(0.2 450.4 52.22)" text-anchor="end" stroke-width="0.18">0,0</text>
<text x="473" y="52.22" transform="rotate(0.2 473 52.22)" stroke-width="0.18">*TP202</text>
<text x="450.4" y="57.42" transform="rotate(0.2 450.4 57.42)" text-anchor="end" stroke-width="0.18">3,1</text>
<text x="473" y="57.42" transform="rotate(0.2 473 57.42)" stroke-width="0.18">*TP1446</text>
<text x="450.4" y="63.12" transform="rotate(0.2 450.4 63.12)" text-anchor="end" stroke-width="0.18">11,2</text>
<text x="473" y="63.12" transform="rotate(0.2 473 63.12)" stroke-width="0.18">*TP793</text>
<text x="450.4" y="73.02" transform="rotate(0.2 450.4 73.02)" text-anchor="end" stroke-width="0.18">22,6</text>
<text x="473" y="73.02" transform="rotate(0.2 473 73.02)" stroke-width="0.18">PC3_426</text>
<text x="450.4" y="88.82" transform="rotate(0.2 450.4 88.82)" text-anchor="end" stroke-width="0.18">40,9</text>
<text x="473" y="88.82" transform="rotate(0.2 473 88.82)" stroke-width="0.18">*TP7802</text>
<text x="450.4" y="96.62" transform="rotate(0.2 450.4 96.62)" text-anchor="end" stroke-width="0.18">49,6</text>
<text x="473" y="96.62" transform="rotate(0.2 473 96.62)" stroke-width="0.18">PC4_114</text>
<text x="450.4" y="102.32" transform="rotate(0.2 450.4 102.32)" text-anchor="end" stroke-width="0.18">58,6</text>
<text x="473" y="102.32" transform="rotate(0.2 473 102.32)" stroke-width="0.18">*GLLC614</text>
<text x="450.4" y="107.82" transform="rotate(0.2 450.4 107.82)" text-anchor="end" stroke-width="0.18">64,1</text>
<text x="473" y="107.82" transform="rotate(0.2 473 107.82)" stroke-width="0.18">*TP5153</text>
<text x="450.4" y="113.32" transform="rotate(0.2 450.4 113.32)" text-anchor="end" stroke-width="0.18">66,8</text>
<text x="473" y="113.32" transform="rotate(0.2 473 113.32)" stroke-width="0.18">*TP3362</text>
<text x="450.4" y="118.82" transform="rotate(0.2 450.4 118.82)" text-anchor="end" stroke-width="0.18">71,3</text>
<text x="473" y="118.82" transform="rotate(0.2 473 118.82)" stroke-width="0.18">*TP6151</text>
<text x="450.4" y="124.22" transform="rotate(0.2 450.4 124.22)" text-anchor="end" stroke-width="0.18">76,9</text>
<text x="473" y="124.22" transform="rotate(0.2 473 124.22)" stroke-width="0.18">*TP3866</text>
<text x="450.4" y="129.62" transform="rotate(0.2 450.4 129.62)" text-anchor="end" stroke-width="0.18">86,2</text>
<text x="473" y="129.62" transform="rotate(0.2 473 129.62)" stroke-width="0.18">*TP6757</text>
<text x="450.4" y="134.92" transform="rotate(0.2 450.4 134.92)" text-anchor="end" stroke-width="0.18">92,0</text>
<text x="473" y="134.92" transform="rotate(0.2 473 134.92)" stroke-width="0.18">*TP86</text>
<text x="450.4" y="140.62" transform="rotate(0.2 450.4 140.62)" text-anchor="end" stroke-width="0.18">98,6</text>
<text x="473" y="140.62" transform="rotate(0.2 473 140.62)" stroke-width="0.18">*TP813</text>
<text x="450.4" y="147.62" transform="rotate(0.2 450.4 147.62)" text-anchor="end" stroke-width="0.18">109,1</text>
<text x="473" y="147.62" transform="rotate(0.2 473 147.62)" stroke-width="0.18">*TP7481</text>
<text x="450.4" y="154.02" transform="rotate(0.2 450.4 154.02)" text-anchor="end" stroke-width="0.18">116,5</text>
<text x="473" y="154.02" transform="rotate(0.2 473 154.02)" stroke-width="0.18">*TP6590</text>
<text x="450.4" y="171.92" transform="rotate(0.2 450.4 171.92)" text-anchor="end" stroke-width="0.18">137,2</text>
<text x="473" y="171.92" transform="rotate(0.2 473 171.92)" stroke-width="0.18">*TP5857</text>
<text x="450.4" y="178.12" transform="rotate(0.2 450.4 178.12)" text-anchor="end" stroke-width="0.18">144,4</text>
<text x="473" y="178.12" transform="rotate(0.2 473 178.12)" stroke-width="0.18">*TP6653</text>
<text x="450.4" y="187.62" transform="rotate(0.2 450.4 187.62)" text-anchor="end" stroke-width="0.18">155,4</text>
<text x="473" y="187.62" transform="rotate(0.2 473 187.62)" stroke-width="0.18">PC2_252</text>
<text x="450.4" y="199.82" transform="rotate(0.2 450.4 199.82)" text-anchor="end" stroke-width="0.18">170,8</text>
<text x="473" y="199.82" transform="rotate(0.2 473 199.82)" stroke-width="0.18">*TP1420</text>
<text x="450.4" y="205.22" transform="rotate(0.2 450.4 205.22)" text-anchor="end" stroke-width="0.18">175,0</text>
<text x="473" y="205.22" transform="rotate(0.2 473 205.22)" stroke-width="0.18">*TP6248</text>
<text x="450.4" y="210.62" transform="rotate(0.2 450.4 210.62)" text-anchor="end" stroke-width="0.18">180,5</text>
<text x="473" y="210.62" transform="rotate(0.2 473 210.62)" stroke-width="0.18">*TP2701</text>
<rect x="497.4" y="199.1" width="10.9" height="4.4" fill="#8B8B1F"/>
<text transform="translate(509.3 201.2) rotate(90)" text-anchor="middle" font-style="italic" font-size="4.75" fill="#8B8B1F" stroke="#8B8B1F" stroke-width="0.08">SL12DAS_DR_2014</text>
<path d="M577 54V206.6" stroke="#111" stroke-width="0.95" stroke-dasharray="1 2.67" fill="none"/>
<path d="M520.36 52L520.36 54.67L518.2 61.65L520.36 71.48L518.2 79.59L523.69 87.26L520.36 94.76L523.3 102.52L526.24 107.26L528 109.58L523.69 113.46L523.3 118.29L521.14 126.31L519.96 131.31L518.2 137L524.86 146.05L529.96 149.41L533.68 152.43L533.88 154.58L531.53 158.03L526.43 162.34L522.12 166.65L520.75 170.27L524.47 173.55L529.37 176.48L532.9 178.72L534.86 180.88L534.27 183.03L529.96 184.76L522.51 185.96L520.16 188.2L518.98 192.51L519.77 196.82L524.08 198.81L589.35 199.24L587.78 202.17L580.92 202.77L526.04 202.86L518.2 202.86L524.47 207.6" fill="none" stroke="#8B8B1F" stroke-width="0.95" stroke-dasharray="2.1 1.7 0.9 1.7" stroke-linejoin="round"/>
<circle cx="520.36" cy="52" r="2.0" fill="#8B8B1F"/>
<circle cx="520.36" cy="54.67" r="2.0" fill="#8B8B1F"/>
<circle cx="518.2" cy="61.65" r="2.0" fill="#8B8B1F"/>
<circle cx="520.36" cy="71.48" r="2.0" fill="#8B8B1F"/>
<circle cx="523.69" cy="87.26" r="2.0" fill="#8B8B1F"/>
<circle cx="520.36" cy="94.76" r="2.0" fill="#8B8B1F"/>
<circle cx="523.3" cy="102.52" r="2.0" fill="#8B8B1F"/>
<circle cx="526.24" cy="107.26" r="2.0" fill="#8B8B1F"/>
<circle cx="528" cy="109.58" r="2.0" fill="#8B8B1F"/>
<circle cx="523.69" cy="113.46" r="2.0" fill="#8B8B1F"/>
<circle cx="523.3" cy="118.29" r="2.0" fill="#8B8B1F"/>
<circle cx="521.14" cy="126.31" r="2.0" fill="#8B8B1F"/>
<circle cx="519.96" cy="131.31" r="2.0" fill="#8B8B1F"/>
<circle cx="518.2" cy="137" r="2.0" fill="#8B8B1F"/>
<circle cx="524.86" cy="146.05" r="2.0" fill="#8B8B1F"/>
<circle cx="533.68" cy="152.43" r="2.0" fill="#8B8B1F"/>
<circle cx="520.75" cy="170.27" r="2.0" fill="#8B8B1F"/>
<circle cx="529.37" cy="176.48" r="2.0" fill="#8B8B1F"/>
<circle cx="522.51" cy="185.96" r="2.0" fill="#8B8B1F"/>
<circle cx="589.35" cy="199.24" r="2.0" fill="#8B8B1F"/>
<circle cx="518.2" cy="202.86" r="2.0" fill="#8B8B1F"/>
<circle cx="524.47" cy="207.6" r="2.0" fill="#8B8B1F"/>
<path d="M518.2 52H616.2V207.6H518.2Z" fill="none" stroke="#111" stroke-width="0.95"/>
<path d="M518.2 52H616.2M518.2 207.6H616.2" fill="none" stroke="#222" stroke-width="1.2"/>
<text transform="translate(515.9 46.8) rotate(90)" text-anchor="middle" font-size="4.7" stroke-width="0.15">0</text>
<text transform="translate(535.5 46.8) rotate(90)" text-anchor="middle" font-size="4.7" stroke-width="0.15">1</text>
<text transform="translate(555.1 46.8) rotate(90)" text-anchor="middle" font-size="4.7" stroke-width="0.15">2</text>
<text transform="translate(574.7 46.8) rotate(90)" text-anchor="middle" font-size="4.7" stroke-width="0.15">3</text>
<text transform="translate(594.3 46.8) rotate(90)" text-anchor="middle" font-size="4.7" stroke-width="0.15">4</text>
<text transform="translate(613.9 46.8) rotate(90)" text-anchor="middle" font-size="4.7" stroke-width="0.15">5</text>
<path d="M518.2 52v-2.3M537.8 52v-2.3M557.4 52v-2.3M577 52v-2.3M596.6 52v-2.3M616.2 52v-2.3" stroke="#111" stroke-width="0.8" fill="none"/>
<text x="18" y="301" font-size="6.8" font-weight="bold" stroke-width="0.15">LGVII</text>
<path d="M23.9 345.4 A2.9 3.1 0 0 1 29.7 345.4 V447.2 A2.9 3.1 0 0 1 23.9 447.2 Z" fill="#fff" stroke="#000" stroke-width="1.0"/>
<path d="M23.9 345.4H29.7M17 345.3H23.9M29.7 345.3H36.4M23.9 358.57H29.7M17 352.5H19.4L22.9 358.57H23.9M29.7 358.57H30.7L34 352.5H36.4M23.9 361.49H29.7M17 358H19.4L22.9 361.49H23.9M29.7 361.49H30.7L34 358H36.4M23.9 363.3H29.7M17 363.6H19.4L22.9 363.3H23.9M29.7 363.3H30.7L34 363.6H36.4M23.9 364.25H29.7M17 369H19.4L22.9 364.25H23.9M29.7 364.25H30.7L34 369H36.4M23.9 366.4H29.7M17 374.4H19.4L22.9 366.4H23.9M29.7 366.4H30.7L34 374.4H36.4M23.9 370.61H29.7M17 380H19.4L22.9 370.61H23.9M29.7 370.61H30.7L34 380H36.4M23.9 379.65H29.7M17 385.5H19.4L22.9 379.65H23.9M29.7 379.65H30.7L34 385.5H36.4M23.9 393.93H29.7M17 394H23.9M29.7 394H36.4M23.9 414.24H29.7M17 414.4H23.9M29.7 414.4H36.4M23.9 429.22H29.7M17 429.3H23.9M29.7 429.3H36.4M23.9 447.2H29.7M17 447.2H23.9M29.7 447.2H36.4" fill="none" stroke="#000" stroke-width="0.82" stroke-linejoin="round"/>
<text x="15.5" y="346.92" transform="rotate(0.2 15.5 346.92)" text-anchor="end" stroke-width="0.18">0,0</text>
<text x="38.1" y="346.92" transform="rotate(0.2 38.1 346.92)" stroke-width="0.18">PC5_319</text>
<text x="15.5" y="354.12" transform="rotate(0.2 15.5 354.12)" text-anchor="end" stroke-width="0.18">15,3</text>
<text x="38.1" y="354.12" transform="rotate(0.2 38.1 354.12)" stroke-width="0.18">*ME1XEM8b</text>
<text x="15.5" y="359.62" transform="rotate(0.2 15.5 359.62)" text-anchor="end" stroke-width="0.18">18,7</text>
<text x="38.1" y="359.62" transform="rotate(0.2 38.1 359.62)" stroke-width="0.18">*ME5XR10</text>
<text x="15.5" y="365.22" transform="rotate(0.2 15.5 365.22)" text-anchor="end" stroke-width="0.18">20,8</text>
<text x="38.1" y="365.22" transform="rotate(0.2 38.1 365.22)" stroke-width="0.18">*ME4XR16c</text>
<text x="15.5" y="370.62" transform="rotate(0.2 15.5 370.62)" text-anchor="end" stroke-width="0.18">21,9</text>
<text x="38.1" y="370.62" transform="rotate(0.2 38.1 370.62)" stroke-width="0.18">*UBC34</text>
<text x="15.5" y="376.02" transform="rotate(0.2 15.5 376.02)" text-anchor="end" stroke-width="0.18">24,4</text>
<text x="38.1" y="376.02" transform="rotate(0.2 38.1 376.02)" stroke-width="0.18">*UBC1</text>
<text x="15.5" y="381.62" transform="rotate(0.2 15.5 381.62)" text-anchor="end" stroke-width="0.18">29,3</text>
<text x="38.1" y="381.62" transform="rotate(0.2 38.1 381.62)" stroke-width="0.18">*UBC36</text>
<text x="15.5" y="387.12" transform="rotate(0.2 15.5 387.12)" text-anchor="end" stroke-width="0.18">39,8</text>
<text x="38.1" y="387.12" transform="rotate(0.2 38.1 387.12)" stroke-width="0.18">*UBC7b</text>
<text x="15.5" y="395.62" transform="rotate(0.2 15.5 395.62)" text-anchor="end" stroke-width="0.18">56,4</text>
<text x="38.1" y="395.62" transform="rotate(0.2 38.1 395.62)" stroke-width="0.18">*UBC119</text>
<text x="15.5" y="416.02" transform="rotate(0.2 15.5 416.02)" text-anchor="end" stroke-width="0.18">80,0</text>
<text x="38.1" y="416.02" transform="rotate(0.2 38.1 416.02)" stroke-width="0.18">*UBC7a</text>
<text x="15.5" y="430.92" transform="rotate(0.2 15.5 430.92)" text-anchor="end" stroke-width="0.18">97,4</text>
<text x="38.1" y="430.92" transform="rotate(0.2 38.1 430.92)" stroke-width="0.18">*UBC38c</text>
<text x="15.5" y="448.82" transform="rotate(0.2 15.5 448.82)" text-anchor="end" stroke-width="0.18">118,3</text>
<text x="38.1" y="448.82" transform="rotate(0.2 38.1 448.82)" stroke-width="0.18">PC1_488</text>
<rect x="67.1" y="362.7" width="10.7" height="4.2" fill="#4DB85C"/>
<text transform="translate(79.6 364.7) rotate(90)" text-anchor="middle" font-style="italic" font-size="4.75" fill="#4DB85C" stroke="#4DB85C" stroke-width="0.08">DRW_DR_2014</text>
<rect x="85.4" y="362.7" width="10.7" height="4.2" fill="#800A0A"/>
<text transform="translate(97.3 364.7) rotate(90)" text-anchor="middle" font-style="italic" font-size="4.75" fill="#800A0A" stroke="#800A0A" stroke-width="0.08">DSW_DR_2014</text>
<rect x="103.7" y="362.7" width="10.9" height="4.2" fill="#45E4F0"/>
<text transform="translate(115.7 364.8) rotate(90)" text-anchor="middle" font-style="italic" font-size="4.75" fill="#45E4F0" stroke="#45E4F0" stroke-width="0.08">SL22DAS_DR_2014</text>
<rect x="122.2" y="363.8" width="10.3" height="6.5" fill="#BDBDBD"/>
<text transform="translate(133.9 367.4) rotate(90)" text-anchor="middle" font-style="italic" font-size="4.75" fill="#BDBDBD" stroke="#BDBDBD" stroke-width="0.08">RSA_DR_2014</text>
<rect x="140" y="362.7" width="11" height="4.2" fill="#24F024"/>
<text transform="translate(151.5 364.5) rotate(90)" text-anchor="middle" font-style="italic" font-size="4.75" fill="#24F024" stroke="#24F024" stroke-width="0.08">LRN_DR_2014</text>
<rect x="158.8" y="357.9" width="10.5" height="5.7" fill="#8B8B1F"/>
<text transform="translate(170.3 360.7) rotate(90)" text-anchor="middle" font-style="italic" font-size="4.75" fill="#8B8B1F" stroke="#8B8B1F" stroke-width="0.08">SL12DAS_DR_2014</text>
<path d="M215.18 347.4V446.3" stroke="#111" stroke-width="0.95" stroke-dasharray="1 2.67" fill="none"/>
<path d="M179.8 345.4L184.68 358.58L183.46 361.51L187.12 363.14L248.49 363.32L253.98 364.26L187.12 366.25L180.41 366.42L179.8 370.64L179.8 379.68L179.8 393.98L181.02 414.31L180.41 429.3L183.46 443.6L180.41 447.3" fill="none" stroke="#800A0A" stroke-width="0.95" stroke-dasharray="2.1 1.7 0.9 1.7" stroke-linejoin="round"/>
<path d="M179.8 345.4L181.02 358.58L180.41 361.51L183.46 363.14L224.7 363.32L218.84 364.26L184.68 366.25L181.02 366.42L181.02 370.64L182.24 379.68L180.41 393.98L180.41 414.31L182.85 429.3L179.8 447.3" fill="none" stroke="#45E4F0" stroke-width="0.95" stroke-dasharray="2.1 1.7 0.9 1.7" stroke-linejoin="round"/>
<path d="M179.8 345.4L181.63 358.58L181.02 361.51L183.46 363.32L187.12 364.09L232.02 364.26L225.55 366.42L216.4 370.21L198.1 370.55L181.02 370.64L180.41 379.68L180.41 393.98L191.76 414.31L189.32 429.3L180.41 447.3" fill="none" stroke="#BDBDBD" stroke-width="0.95" stroke-dasharray="2.1 1.7 0.9 1.7" stroke-linejoin="round"/>
<path d="M180.41 345.4L181.02 358.58L182.24 361.51L210.3 363.32L264.22 364.26L187.12 366.25L181.02 366.42L180.41 370.64L180.41 379.68L183.46 393.98L188.34 414.31L180.41 429.3L179.8 447.3" fill="none" stroke="#4DB85C" stroke-width="0.95" stroke-dasharray="2.1 1.7 0.9 1.7" stroke-linejoin="round"/>
<path d="M180.04 345.4L181.02 358.58L195.9 361.51L190.54 363.32L215.06 364.26L184.68 366.25L181.02 366.42L180.41 370.64L179.8 379.68L184.56 393.98L180.29 414.31L179.8 429.3L179.8 447.3" fill="none" stroke="#24F024" stroke-width="0.95" stroke-dasharray="2.1 1.7 0.9 1.7" stroke-linejoin="round"/>
<path d="M185.41 345.4L183.46 358.32L205.18 358.58L212.01 361.51L189.56 363.14L183.46 363.32L182.85 364.26L181.02 366.42L180.41 370.64L179.8 379.68L180.29 393.98L188.83 414.31L180.29 429.3L180.04 447.3" fill="none" stroke="#8B8B1F" stroke-width="0.95" stroke-dasharray="2.1 1.7 0.9 1.7" stroke-linejoin="round"/>
<circle cx="179.8" cy="345.4" r="2.0" fill="#800A0A"/>
<circle cx="184.68" cy="358.58" r="2.0" fill="#800A0A"/>
<circle cx="183.46" cy="361.51" r="2.0" fill="#800A0A"/>
<circle cx="248.49" cy="363.32" r="2.0" fill="#800A0A"/>
<circle cx="253.98" cy="364.26" r="2.0" fill="#800A0A"/>
<circle cx="180.41" cy="366.42" r="2.0" fill="#800A0A"/>
<circle cx="179.8" cy="370.64" r="2.0" fill="#800A0A"/>
<circle cx="179.8" cy="379.68" r="2.0" fill="#800A0A"/>
<circle cx="179.8" cy="393.98" r="2.0" fill="#800A0A"/>
<circle cx="181.02" cy="414.31" r="2.0" fill="#800A0A"/>
<circle cx="180.41" cy="429.3" r="2.0" fill="#800A0A"/>
<circle cx="180.41" cy="447.3" r="2.0" fill="#800A0A"/>
<circle cx="179.8" cy="345.4" r="2.0" fill="#45E4F0"/>
<circle cx="181.02" cy="358.58" r="2.0" fill="#45E4F0"/>
<circle cx="180.41" cy="361.51" r="2.0" fill="#45E4F0"/>
<circle cx="224.7" cy="363.32" r="2.0" fill="#45E4F0"/>
<circle cx="218.84" cy="364.26" r="2.0" fill="#45E4F0"/>
<circle cx="181.02" cy="366.42" r="2.0" fill="#45E4F0"/>
<circle cx="181.02" cy="370.64" r="2.0" fill="#45E4F0"/>
<circle cx="182.24" cy="379.68" r="2.0" fill="#45E4F0"/>
<circle cx="180.41" cy="393.98" r="2.0" fill="#45E4F0"/>
<circle cx="180.41" cy="414.31" r="2.0" fill="#45E4F0"/>
<circle cx="182.85" cy="429.3" r="2.0" fill="#45E4F0"/>
<circle cx="179.8" cy="447.3" r="2.0" fill="#45E4F0"/>
<circle cx="179.8" cy="345.4" r="2.0" fill="#BDBDBD"/>
<circle cx="181.63" cy="358.58" r="2.0" fill="#BDBDBD"/>
<circle cx="181.02" cy="361.51" r="2.0" fill="#BDBDBD"/>
<circle cx="183.46" cy="363.32" r="2.0" fill="#BDBDBD"/>
<circle cx="232.02" cy="364.26" r="2.0" fill="#BDBDBD"/>
<circle cx="225.55" cy="366.42" r="2.0" fill="#BDBDBD"/>
<circle cx="181.02" cy="370.64" r="2.0" fill="#BDBDBD"/>
<circle cx="180.41" cy="379.68" r="2.0" fill="#BDBDBD"/>
<circle cx="180.41" cy="393.98" r="2.0" fill="#BDBDBD"/>
<circle cx="191.76" cy="414.31" r="2.0" fill="#BDBDBD"/>
<circle cx="189.32" cy="429.3" r="2.0" fill="#BDBDBD"/>
<circle cx="180.41" cy="447.3" r="2.0" fill="#BDBDBD"/>
<circle cx="180.41" cy="345.4" r="2.0" fill="#4DB85C"/>
<circle cx="181.02" cy="358.58" r="2.0" fill="#4DB85C"/>
<circle cx="182.24" cy="361.51" r="2.0" fill="#4DB85C"/>
<circle cx="210.3" cy="363.32" r="2.0" fill="#4DB85C"/>
<circle cx="264.22" cy="364.26" r="2.0" fill="#4DB85C"/>
<circle cx="181.02" cy="366.42" r="2.0" fill="#4DB85C"/>
<circle cx="180.41" cy="370.64" r="2.0" fill="#4DB85C"/>
<circle cx="180.41" cy="379.68" r="2.0" fill="#4DB85C"/>
<circle cx="183.46" cy="393.98" r="2.0" fill="#4DB85C"/>
<circle cx="188.34" cy="414.31" r="2.0" fill="#4DB85C"/>
<circle cx="180.41" cy="429.3" r="2.0" fill="#4DB85C"/>
<circle cx="179.8" cy="447.3" r="2.0" fill="#4DB85C"/>
<circle cx="180.04" cy="345.4" r="2.0" fill="#24F024"/>
<circle cx="181.02" cy="358.58" r="2.0" fill="#24F024"/>
<circle cx="195.9" cy="361.51" r="2.0" fill="#24F024"/>
<circle cx="190.54" cy="363.32" r="2.0" fill="#24F024"/>
<circle cx="215.06" cy="364.26" r="2.0" fill="#24F024"/>
<circle cx="181.02" cy="366.42" r="2.0" fill="#24F024"/>
<circle cx="180.41" cy="370.64" r="2.0" fill="#24F024"/>
<circle cx="179.8" cy="379.68" r="2.0" fill="#24F024"/>
<circle cx="184.56" cy="393.98" r="2.0" fill="#24F024"/>
<circle cx="180.29" cy="414.31" r="2.0" fill="#24F024"/>
<circle cx="179.8" cy="429.3" r="2.0" fill="#24F024"/>
<circle cx="179.8" cy="447.3" r="2.0" fill="#24F024"/>
<circle cx="185.41" cy="345.4" r="2.0" fill="#8B8B1F"/>
<circle cx="205.18" cy="358.58" r="2.0" fill="#8B8B1F"/>
<circle cx="212.01" cy="361.51" r="2.0" fill="#8B8B1F"/>
<circle cx="183.46" cy="363.32" r="2.0" fill="#8B8B1F"/>
<circle cx="182.85" cy="364.26" r="2.0" fill="#8B8B1F"/>
<circle cx="181.02" cy="366.42" r="2.0" fill="#8B8B1F"/>
<circle cx="180.41" cy="370.64" r="2.0" fill="#8B8B1F"/>
<circle cx="179.8" cy="379.68" r="2.0" fill="#8B8B1F"/>
<circle cx="180.29" cy="393.98" r="2.0" fill="#8B8B1F"/>
<circle cx="188.83" cy="414.31" r="2.0" fill="#8B8B1F"/>
<circle cx="180.29" cy="429.3" r="2.0" fill="#8B8B1F"/>
<circle cx="180.04" cy="447.3" r="2.0" fill="#8B8B1F"/>
<path d="M179.8 345.4H277.3V447.3H179.8Z" fill="none" stroke="#111" stroke-width="0.95"/>
<path d="M179.8 345.4H277.3M179.8 447.3H277.3" fill="none" stroke="#222" stroke-width="1.2"/>
<text transform="translate(177.5 340.2) rotate(90)" text-anchor="middle" font-size="4.7" stroke-width="0.15">0</text>
<text transform="translate(189.7 340.2) rotate(90)" text-anchor="middle" font-size="4.7" stroke-width="0.15">1</text>
<text transform="translate(201.9 340.2) rotate(90)" text-anchor="middle" font-size="4.7" stroke-width="0.15">2</text>
<text transform="translate(214.1 340.2) rotate(90)" text-anchor="middle" font-size="4.7" stroke-width="0.15">3</text>
<text transform="translate(226.3 340.2) rotate(90)" text-anchor="middle" font-size="4.7" stroke-width="0.15">4</text>
<text transform="translate(238.5 340.2) rotate(90)" text-anchor="middle" font-size="4.7" stroke-width="0.15">5</text>
<text transform="translate(250.7 340.2) rotate(90)" text-anchor="middle" font-size="4.7" stroke-width="0.15">6</text>
<text transform="translate(262.9 340.2) rotate(90)" text-anchor="middle" font-size="4.7" stroke-width="0.15">7</text>
<text transform="translate(275.1 340.2) rotate(90)" text-anchor="middle" font-size="4.7" stroke-width="0.15">8</text>
<path d="M179.8 345.4v-2.3M192 345.4v-2.3M204.2 345.4v-2.3M216.4 345.4v-2.3M228.6 345.4v-2.3M240.8 345.4v-2.3M253 345.4v-2.3M265.2 345.4v-2.3M277.4 345.4v-2.3" stroke="#111" stroke-width="0.8" fill="none"/>
<text x="299.5" y="301" font-size="6.8" font-weight="bold" stroke-width="0.15">LGVIII</text>
<path d="M307.1 345.3 A2.9 3.1 0 0 1 312.9 345.3 V428.2 A2.9 3.1 0 0 1 307.1 428.2 Z" fill="#fff" stroke="#000" stroke-width="1.0"/>
<path d="M307.1 345.3H312.9M300.2 345.3H307.1M312.9 345.3H319.6M307.1 368.59H312.9M300.2 360.5H302.6L306.1 368.59H307.1M312.9 368.59H313.9L317.2 360.5H319.6M307.1 379.03H312.9M300.2 365.97H302.6L306.1 379.03H307.1M312.9 379.03H313.9L317.2 365.97H319.6M307.1 384.21H312.9M300.2 371.44H302.6L306.1 384.21H307.1M312.9 384.21H313.9L317.2 371.44H319.6M307.1 387.66H312.9M300.2 376.91H302.6L306.1 387.66H307.1M312.9 387.66H313.9L317.2 376.91H319.6M307.1 388.86H312.9M300.2 382.38H302.6L306.1 388.86H307.1M312.9 388.86H313.9L317.2 382.38H319.6M307.1 393.95H312.9M300.2 387.85H302.6L306.1 393.95H307.1M312.9 393.95H313.9L317.2 387.85H319.6M307.1 396.89H312.9M300.2 393.32H302.6L306.1 396.89H307.1M312.9 396.89H313.9L317.2 393.32H319.6M307.1 397.14H312.9M300.2 398.79H302.6L306.1 397.14H307.1M312.9 397.14H313.9L317.2 398.79H319.6M307.1 400.85H312.9M300.2 404.26H302.6L306.1 400.85H307.1M312.9 400.85H313.9L317.2 404.26H319.6M307.1 404.05H312.9M300.2 409.73H302.6L306.1 404.05H307.1M312.9 404.05H313.9L317.2 409.73H319.6M307.1 406.46H312.9M300.2 415.2H302.6L306.1 406.46H307.1M312.9 406.46H313.9L317.2 415.2H319.6M307.1 407.58H312.9M300.2 420.67H302.6L306.1 407.58H307.1M312.9 407.58H313.9L317.2 420.67H319.6M307.1 413.02H312.9M300.2 426.14H302.6L306.1 413.02H307.1M312.9 413.02H313.9L317.2 426.14H319.6M307.1 424.75H312.9M300.2 431.61H302.6L306.1 424.75H307.1M312.9 424.75H313.9L317.2 431.61H319.6M307.1 428.2H312.9M300.2 437.08H302.6L306.1 428.2H307.1M312.9 428.2H313.9L317.2 437.08H319.6" fill="none" stroke="#000" stroke-width="0.82" stroke-linejoin="round"/>
<text x="298.7" y="346.92" transform="rotate(0.2 298.7 346.92)" text-anchor="end" stroke-width="0.18">0,0</text>
<text x="321.3" y="346.92" transform="rotate(0.2 321.3 346.92)" stroke-width="0.18">PC6_323</text>
<text x="298.7" y="362.12" transform="rotate(0.2 298.7 362.12)" text-anchor="end" stroke-width="0.18">27,0</text>
<text x="321.3" y="362.12" transform="rotate(0.2 321.3 362.12)" stroke-width="0.18">PC1_273</text>
<text x="298.7" y="367.59" transform="rotate(0.2 298.7 367.59)" text-anchor="end" stroke-width="0.18">39,1</text>
<text x="321.3" y="367.59" transform="rotate(0.2 321.3 367.59)" stroke-width="0.18">PC6_348</text>
<text x="298.7" y="373.06" transform="rotate(0.2 298.7 373.06)" text-anchor="end" stroke-width="0.18">45,1</text>
<text x="321.3" y="373.06" transform="rotate(0.2 321.3 373.06)" stroke-width="0.18">PC1_116</text>
<text x="298.7" y="378.53" transform="rotate(0.2 298.7 378.53)" text-anchor="end" stroke-width="0.18">49,1</text>
<text x="321.3" y="378.53" transform="rotate(0.2 321.3 378.53)" stroke-width="0.18">*F10XEM1a</text>
<text x="298.7" y="384" transform="rotate(0.2 298.7 384)" text-anchor="end" stroke-width="0.18">50,5</text>
<text x="321.3" y="384" transform="rotate(0.2 321.3 384)" stroke-width="0.18">*ME2XR9a</text>
<text x="298.7" y="389.47" transform="rotate(0.2 298.7 389.47)" text-anchor="end" stroke-width="0.18">56,4</text>
<text x="321.3" y="389.47" transform="rotate(0.2 321.3 389.47)" stroke-width="0.18">*ME3XEM5a</text>
<text x="298.7" y="394.94" transform="rotate(0.2 298.7 394.94)" text-anchor="end" stroke-width="0.18">59,8</text>
<text x="321.3" y="394.94" transform="rotate(0.2 321.3 394.94)" stroke-width="0.18">*F14XR8c</text>
<text x="298.7" y="400.41" transform="rotate(0.2 298.7 400.41)" text-anchor="end" stroke-width="0.18">60,1</text>
<text x="321.3" y="400.41" transform="rotate(0.2 321.3 400.41)" stroke-width="0.18">*F14XEM3c</text>
<text x="298.7" y="405.88" transform="rotate(0.2 298.7 405.88)" text-anchor="end" stroke-width="0.18">64,4</text>
<text x="321.3" y="405.88" transform="rotate(0.2 321.3 405.88)" stroke-width="0.18">PC7_277</text>
<text x="298.7" y="411.35" transform="rotate(0.2 298.7 411.35)" text-anchor="end" stroke-width="0.18">68,1</text>
<text x="321.3" y="411.35" transform="rotate(0.2 321.3 411.35)" stroke-width="0.18">PC2_167</text>
<text x="298.7" y="416.82" transform="rotate(0.2 298.7 416.82)" text-anchor="end" stroke-width="0.18">70,9</text>
<text x="321.3" y="416.82" transform="rotate(0.2 321.3 416.82)" stroke-width="0.18">PC3_159</text>
<text x="298.7" y="422.29" transform="rotate(0.2 298.7 422.29)" text-anchor="end" stroke-width="0.18">72,2</text>
<text x="321.3" y="422.29" transform="rotate(0.2 321.3 422.29)" stroke-width="0.18">PC2_162</text>
<text x="298.7" y="427.76" transform="rotate(0.2 298.7 427.76)" text-anchor="end" stroke-width="0.18">78,5</text>
<text x="321.3" y="427.76" transform="rotate(0.2 321.3 427.76)" stroke-width="0.18">*UBC38a</text>
<text x="298.7" y="433.23" transform="rotate(0.2 298.7 433.23)" text-anchor="end" stroke-width="0.18">92,1</text>
<text x="321.3" y="433.23" transform="rotate(0.2 321.3 433.23)" stroke-width="0.18">*ME4XR16d</text>
<text x="298.7" y="438.7" transform="rotate(0.2 298.7 438.7)" text-anchor="end" stroke-width="0.18">96,1</text>
<text x="321.3" y="438.7" transform="rotate(0.2 321.3 438.7)" stroke-width="0.18">PC1_204</text>
<rect x="350.5" y="406" width="10.6" height="4.4" fill="#E8161A"/>
<text transform="translate(361.9 408.5) rotate(90)" text-anchor="middle" font-style="italic" font-size="4.75" fill="#E8161A" stroke="#E8161A" stroke-width="0.08">SPAD_DR_2014</text>
<path d="M428.73 347.3V427.2" stroke="#111" stroke-width="0.95" stroke-dasharray="1 2.67" fill="none"/>
<path d="M371.2 345.3L371.2 368.59L373.15 371.18L378.02 373.77L383.29 376.36L387.97 379.03L392.26 381.53L394.99 384.21L395.19 385.84L394.4 387.66L393.62 388.86L388.75 393.95L383.88 396.89L382.9 397.14L373.74 400.85L376.66 404.05L415.46 406.46L454.46 407.58L451.15 409.14L429.7 409.83L377.05 410L374.12 418.62L371.2 424.75L376.66 428.2" fill="none" stroke="#E8161A" stroke-width="0.95" stroke-dasharray="2.1 1.7 0.9 1.7" stroke-linejoin="round"/>
<circle cx="371.2" cy="345.3" r="2.0" fill="#E8161A"/>
<circle cx="371.2" cy="368.59" r="2.0" fill="#E8161A"/>
<circle cx="387.97" cy="379.03" r="2.0" fill="#E8161A"/>
<circle cx="394.99" cy="384.21" r="2.0" fill="#E8161A"/>
<circle cx="394.4" cy="387.66" r="2.0" fill="#E8161A"/>
<circle cx="393.62" cy="388.86" r="2.0" fill="#E8161A"/>
<circle cx="388.75" cy="393.95" r="2.0" fill="#E8161A"/>
<circle cx="383.88" cy="396.89" r="2.0" fill="#E8161A"/>
<circle cx="382.9" cy="397.14" r="2.0" fill="#E8161A"/>
<circle cx="373.74" cy="400.85" r="2.0" fill="#E8161A"/>
<circle cx="376.66" cy="404.05" r="2.0" fill="#E8161A"/>
<circle cx="415.46" cy="406.46" r="2.0" fill="#E8161A"/>
<circle cx="454.46" cy="407.58" r="2.0" fill="#E8161A"/>
<circle cx="377.05" cy="410" r="2.0" fill="#E8161A"/>
<circle cx="371.2" cy="424.75" r="2.0" fill="#E8161A"/>
<circle cx="376.66" cy="428.2" r="2.0" fill="#E8161A"/>
<path d="M371.2 345.3H469V428.2H371.2Z" fill="none" stroke="#111" stroke-width="0.95"/>
<path d="M371.2 345.3H469M371.2 428.2H469" fill="none" stroke="#222" stroke-width="1.2"/>
<text transform="translate(368.9 340.1) rotate(90)" text-anchor="middle" font-size="4.7" stroke-width="0.15">0</text>
<text transform="translate(388.4 340.1) rotate(90)" text-anchor="middle" font-size="4.7" stroke-width="0.15">1</text>
<text transform="translate(407.9 340.1) rotate(90)" text-anchor="middle" font-size="4.7" stroke-width="0.15">2</text>
<text transform="translate(427.4 340.1) rotate(90)" text-anchor="middle" font-size="4.7" stroke-width="0.15">3</text>
<text transform="translate(446.9 340.1) rotate(90)" text-anchor="middle" font-size="4.7" stroke-width="0.15">4</text>
<text transform="translate(466.4 340.1) rotate(90)" text-anchor="middle" font-size="4.7" stroke-width="0.15">5</text>
<path d="M371.2 345.3v-2.3M390.7 345.3v-2.3M410.2 345.3v-2.3M429.7 345.3v-2.3M449.2 345.3v-2.3M468.7 345.3v-2.3" stroke="#111" stroke-width="0.8" fill="none"/>
<text x="498.8" y="301" font-size="6.8" font-weight="bold" stroke-width="0.15">LGIX</text>
<path d="M504.1 345.7 A2.9 3.1 0 0 1 509.9 345.7 V478.5 A2.9 3.1 0 0 1 504.1 478.5 Z" fill="#fff" stroke="#000" stroke-width="1.0"/>
<path d="M504.1 345.7H509.9M497.2 340.8H499.6L503.1 345.7H504.1M509.9 345.7H510.9L514.2 340.8H516.6M504.1 347.68H509.9M497.2 346.24H499.6L503.1 347.68H504.1M509.9 347.68H510.9L514.2 346.24H516.6M504.1 348.2H509.9M497.2 351.68H499.6L503.1 348.2H504.1M509.9 348.2H510.9L514.2 351.68H516.6M504.1 350.01H509.9M497.2 357.12H499.6L503.1 350.01H504.1M509.9 350.01H510.9L514.2 357.12H516.6M504.1 353.72H509.9M497.2 362.56H499.6L503.1 353.72H504.1M509.9 353.72H510.9L514.2 362.56H516.6M504.1 364.93H509.9M497.2 368H499.6L503.1 364.93H504.1M509.9 364.93H510.9L514.2 368H516.6M504.1 371.74H509.9M497.2 373.44H499.6L503.1 371.74H504.1M509.9 371.74H510.9L514.2 373.44H516.6M504.1 373.73H509.9M497.2 378.88H499.6L503.1 373.73H504.1M509.9 373.73H510.9L514.2 378.88H516.6M504.1 393.3H509.9M497.2 393.4H504.1M509.9 393.4H516.6M504.1 404.08H509.9M497.2 404.2H504.1M509.9 404.2H516.6M504.1 413.22H509.9M497.2 413.2H504.1M509.9 413.2H516.6M504.1 436.85H509.9M497.2 435.2H499.6L503.1 436.85H504.1M509.9 436.85H510.9L514.2 435.2H516.6M504.1 439H509.9M497.2 440.7H499.6L503.1 439H504.1M509.9 439H510.9L514.2 440.7H516.6M504.1 444.78H509.9M497.2 446.2H499.6L503.1 444.78H504.1M509.9 444.78H510.9L514.2 446.2H516.6M504.1 457.46H509.9M497.2 457.6H504.1M509.9 457.6H516.6M504.1 472.55H509.9M497.2 472.8H499.6L503.1 472.55H504.1M509.9 472.55H510.9L514.2 472.8H516.6M504.1 478.5H509.9M497.2 478.5H504.1M509.9 478.5H516.6" fill="none" stroke="#000" stroke-width="0.82" stroke-linejoin="round"/>
<text x="495.7" y="342.42" transform="rotate(0.2 495.7 342.42)" text-anchor="end" stroke-width="0.18">0,0</text>
<text x="518.3" y="342.42" transform="rotate(0.2 518.3 342.42)" stroke-width="0.18">*TP518</text>
<text x="495.7" y="347.86" transform="rotate(0.2 495.7 347.86)" text-anchor="end" stroke-width="0.18">2,3</text>
<text x="518.3" y="347.86" transform="rotate(0.2 518.3 347.86)" stroke-width="0.18">*TP6337</text>
<text x="495.7" y="353.3" transform="rotate(0.2 495.7 353.3)" text-anchor="end" stroke-width="0.18">2,9</text>
<text x="518.3" y="353.3" transform="rotate(0.2 518.3 353.3)" stroke-width="0.18">*TP1280</text>
<text x="495.7" y="358.74" transform="rotate(0.2 495.7 358.74)" text-anchor="end" stroke-width="0.18">5,0</text>
<text x="518.3" y="358.74" transform="rotate(0.2 518.3 358.74)" stroke-width="0.18">*TP525</text>
<text x="495.7" y="364.18" transform="rotate(0.2 495.7 364.18)" text-anchor="end" stroke-width="0.18">9,3</text>
<text x="518.3" y="364.18" transform="rotate(0.2 518.3 364.18)" stroke-width="0.18">*TP5215</text>
<text x="495.7" y="369.62" transform="rotate(0.2 495.7 369.62)" text-anchor="end" stroke-width="0.18">22,3</text>
<text x="518.3" y="369.62" transform="rotate(0.2 518.3 369.62)" stroke-width="0.18">*TP1956</text>
<text x="495.7" y="375.06" transform="rotate(0.2 495.7 375.06)" text-anchor="end" stroke-width="0.18">30,2</text>
<text x="518.3" y="375.06" transform="rotate(0.2 518.3 375.06)" stroke-width="0.18">*TP2688</text>
<text x="495.7" y="380.5" transform="rotate(0.2 495.7 380.5)" text-anchor="end" stroke-width="0.18">32,5</text>
<text x="518.3" y="380.5" transform="rotate(0.2 518.3 380.5)" stroke-width="0.18">*TP5892</text>
<text x="495.7" y="395.02" transform="rotate(0.2 495.7 395.02)" text-anchor="end" stroke-width="0.18">55,2</text>
<text x="518.3" y="395.02" transform="rotate(0.2 518.3 395.02)" stroke-width="0.18">PC6_170</text>
<text x="495.7" y="405.82" transform="rotate(0.2 495.7 405.82)" text-anchor="end" stroke-width="0.18">67,7</text>
<text x="518.3" y="405.82" transform="rotate(0.2 518.3 405.82)" stroke-width="0.18">*F8XEM1b</text>
<text x="495.7" y="414.82" transform="rotate(0.2 495.7 414.82)" text-anchor="end" stroke-width="0.18">78,3</text>
<text x="518.3" y="414.82" transform="rotate(0.2 518.3 414.82)" stroke-width="0.18">*ME5XR7b</text>
<text x="495.7" y="436.82" transform="rotate(0.2 495.7 436.82)" text-anchor="end" stroke-width="0.18">105,7</text>
<text x="518.3" y="436.82" transform="rotate(0.2 518.3 436.82)" stroke-width="0.18">*ME2XEM14a</text>
<text x="495.7" y="442.32" transform="rotate(0.2 495.7 442.32)" text-anchor="end" stroke-width="0.18">108,2</text>
<text x="518.3" y="442.32" transform="rotate(0.2 518.3 442.32)" stroke-width="0.18">*F12XR14e</text>
<text x="495.7" y="447.82" transform="rotate(0.2 495.7 447.82)" text-anchor="end" stroke-width="0.18">114,9</text>
<text x="518.3" y="447.82" transform="rotate(0.2 518.3 447.82)" stroke-width="0.18">*TP621</text>
<text x="495.7" y="459.22" transform="rotate(0.2 495.7 459.22)" text-anchor="end" stroke-width="0.18">129,6</text>
<text x="518.3" y="459.22" transform="rotate(0.2 518.3 459.22)" stroke-width="0.18">*TP7532</text>
<text x="495.7" y="474.42" transform="rotate(0.2 495.7 474.42)" text-anchor="end" stroke-width="0.18">147,1</text>
<text x="518.3" y="474.42" transform="rotate(0.2 518.3 474.42)" stroke-width="0.18">*UBC841a</text>
<text x="495.7" y="480.12" transform="rotate(0.2 495.7 480.12)" text-anchor="end" stroke-width="0.18">154,0</text>
<text x="518.3" y="480.12" transform="rotate(0.2 518.3 480.12)" stroke-width="0.18">*F18XEM2</text>
<path d="M555.4 428.7V436.5M550.5 436.5H560.3" stroke="#800A0A" stroke-width="0.9" fill="none"/>
<rect x="550.2" y="402.7" width="10.4" height="26" fill="#800A0A"/>
<text transform="translate(561.5 419.7) rotate(90)" text-anchor="middle" font-style="italic" font-size="4.75" fill="#800A0A" stroke="#800A0A" stroke-width="0.08">DSW_DR_2014</text>
<rect x="568.4" y="438.1" width="10.4" height="6.6" fill="#000000"/>
<text transform="translate(580.3 441.8) rotate(90)" text-anchor="middle" font-style="italic" font-size="4.75" fill="#000000" stroke="#000000" stroke-width="0.08">TRD_DR_2014</text>
<rect x="586.4" y="346.4" width="10.5" height="2.6" fill="#F5821F"/><path d="M593.75 344.4V350.7" stroke="#F5821F" stroke-width="0.8" fill="none"/>
<text transform="translate(599.0 347.0) rotate(90)" text-anchor="middle" font-style="italic" font-size="4.75" fill="#F5821F" stroke="#F5821F" stroke-width="0.08">RSratio_DR_2014</text>
<path d="M591.85 404.8V397.5M587 397.5H596.7M591.85 418.4V428.6M587 428.6H596.7" stroke="#F5821F" stroke-width="0.9" fill="none"/>
<rect x="586.7" y="404.8" width="10.3" height="13.6" fill="#F5821F"/>
<text transform="translate(597.9 408.8) rotate(90)" text-anchor="middle" font-style="italic" font-size="4.75" fill="#F5821F" stroke="#F5821F" stroke-width="0.08">RSratio_DR_2014</text>
<path d="M649.04 347.7V477.6" stroke="#111" stroke-width="0.95" stroke-dasharray="1 2.67" fill="none"/>
<path d="M607.6 345.7L628.55 347.68L623.12 348.2L621.16 350.01L617.55 353.73L624.03 364.94L611.82 371.76L613.63 373.75L613.03 393.34L615.13 400.07L616.64 403.69L644.37 404.12L648.29 406.11L651.6 408.7L652.51 410.86L652.21 413.27L652.36 415.6L651.76 418.19L650.55 420.61L647.99 422.51L644.67 424.75L640.45 426.82L635.63 428.89L630.21 430.7L624.78 432.17L619.96 433.72L615.13 435.45L609.11 436.92L609.86 439.08L609.11 444.86L607.6 457.54L612.27 472.65L608.2 478.6" fill="none" stroke="#800A0A" stroke-width="0.95" stroke-dasharray="2.1 1.7 0.9 1.7" stroke-linejoin="round"/>
<path d="M607.6 345.7L615.44 347.68L615.74 348.2L613.63 350.01L611.82 353.73L612.72 364.94L641.21 371.76L620.26 373.75L612.12 380.22L607.6 393.34L607.6 404.12L610.92 413.27L614.38 423.37L618.9 432L615.13 435.45L607.6 436.92L612.12 438.73L657.48 439.08L658.84 443.65L652.81 444.6L610.61 444.86L607.6 457.54L607.6 472.65L614.53 478.6" fill="none" stroke="#000000" stroke-width="0.95" stroke-dasharray="2.1 1.7 0.9 1.7" stroke-linejoin="round"/>
<path d="M613.03 345.7L670.59 347.68L684.61 348.2L637.74 350.01L612.12 353.47L607.6 353.73L607.6 364.94L607.6 371.76L609.86 373.75L618.15 384.53L624.48 393.34L630.21 398.34L637.74 404.12L644.52 406.11L652.06 408.7L657.33 411.29L659.29 413.27L659.29 415.17L658.24 417.24L655.52 419.74L650.55 422.25L641.36 425.53L629.75 428.89L620.41 431.31L613.63 433.81L610.16 436.31L610.01 436.92L610.61 439.08L610.61 444.86L607.6 457.54L609.11 472.65L608.2 478.6" fill="none" stroke="#F5821F" stroke-width="0.95" stroke-dasharray="2.1 1.7 0.9 1.7" stroke-linejoin="round"/>
<circle cx="607.6" cy="345.7" r="2.0" fill="#800A0A"/>
<circle cx="628.55" cy="347.68" r="2.0" fill="#800A0A"/>
<circle cx="623.12" cy="348.2" r="2.0" fill="#800A0A"/>
<circle cx="621.16" cy="350.01" r="2.0" fill="#800A0A"/>
<circle cx="617.55" cy="353.73" r="2.0" fill="#800A0A"/>
<circle cx="624.03" cy="364.94" r="2.0" fill="#800A0A"/>
<circle cx="611.82" cy="371.76" r="2.0" fill="#800A0A"/>
<circle cx="613.63" cy="373.75" r="2.0" fill="#800A0A"/>
<circle cx="613.03" cy="393.34" r="2.0" fill="#800A0A"/>
<circle cx="644.37" cy="404.12" r="2.0" fill="#800A0A"/>
<circle cx="652.21" cy="413.27" r="2.0" fill="#800A0A"/>
<circle cx="609.11" cy="436.92" r="2.0" fill="#800A0A"/>
<circle cx="609.86" cy="439.08" r="2.0" fill="#800A0A"/>
<circle cx="609.11" cy="444.86" r="2.0" fill="#800A0A"/>
<circle cx="607.6" cy="457.54" r="2.0" fill="#800A0A"/>
<circle cx="612.27" cy="472.65" r="2.0" fill="#800A0A"/>
<circle cx="608.2" cy="478.6" r="2.0" fill="#800A0A"/>
<circle cx="607.6" cy="345.7" r="2.0" fill="#000000"/>
<circle cx="615.44" cy="347.68" r="2.0" fill="#000000"/>
<circle cx="615.74" cy="348.2" r="2.0" fill="#000000"/>
<circle cx="613.63" cy="350.01" r="2.0" fill="#000000"/>
<circle cx="611.82" cy="353.73" r="2.0" fill="#000000"/>
<circle cx="612.72" cy="364.94" r="2.0" fill="#000000"/>
<circle cx="641.21" cy="371.76" r="2.0" fill="#000000"/>
<circle cx="620.26" cy="373.75" r="2.0" fill="#000000"/>
<circle cx="607.6" cy="393.34" r="2.0" fill="#000000"/>
<circle cx="607.6" cy="404.12" r="2.0" fill="#000000"/>
<circle cx="610.92" cy="413.27" r="2.0" fill="#000000"/>
<circle cx="607.6" cy="436.92" r="2.0" fill="#000000"/>
<circle cx="657.48" cy="439.08" r="2.0" fill="#000000"/>
<circle cx="610.61" cy="444.86" r="2.0" fill="#000000"/>
<circle cx="607.6" cy="457.54" r="2.0" fill="#000000"/>
<circle cx="607.6" cy="472.65" r="2.0" fill="#000000"/>
<circle cx="614.53" cy="478.6" r="2.0" fill="#000000"/>
<circle cx="613.03" cy="345.7" r="2.0" fill="#F5821F"/>
<circle cx="670.59" cy="347.68" r="2.0" fill="#F5821F"/>
<circle cx="684.61" cy="348.2" r="2.0" fill="#F5821F"/>
<circle cx="637.74" cy="350.01" r="2.0" fill="#F5821F"/>
<circle cx="607.6" cy="353.73" r="2.0" fill="#F5821F"/>
<circle cx="607.6" cy="364.94" r="2.0" fill="#F5821F"/>
<circle cx="607.6" cy="371.76" r="2.0" fill="#F5821F"/>
<circle cx="609.86" cy="373.75" r="2.0" fill="#F5821F"/>
<circle cx="624.48" cy="393.34" r="2.0" fill="#F5821F"/>
<circle cx="637.74" cy="404.12" r="2.0" fill="#F5821F"/>
<circle cx="659.29" cy="413.27" r="2.0" fill="#F5821F"/>
<circle cx="610.01" cy="436.92" r="2.0" fill="#F5821F"/>
<circle cx="610.61" cy="439.08" r="2.0" fill="#F5821F"/>
<circle cx="610.61" cy="444.86" r="2.0" fill="#F5821F"/>
<circle cx="607.6" cy="457.54" r="2.0" fill="#F5821F"/>
<circle cx="609.11" cy="472.65" r="2.0" fill="#F5821F"/>
<circle cx="608.2" cy="478.6" r="2.0" fill="#F5821F"/>
<path d="M607.6 345.7H706.2V478.6H607.6Z" fill="none" stroke="#111" stroke-width="0.95"/>
<path d="M607.6 345.7H706.2M607.6 478.6H706.2" fill="none" stroke="#222" stroke-width="1.2"/>
<text transform="translate(605.3 340.5) rotate(90)" text-anchor="middle" font-size="4.7" stroke-width="0.15">0</text>
<text transform="translate(620.37 340.5) rotate(90)" text-anchor="middle" font-size="4.7" stroke-width="0.15">1</text>
<text transform="translate(635.44 340.5) rotate(90)" text-anchor="middle" font-size="4.7" stroke-width="0.15">2</text>
<text transform="translate(650.51 340.5) rotate(90)" text-anchor="middle" font-size="4.7" stroke-width="0.15">3</text>
<text transform="translate(665.58 340.5) rotate(90)" text-anchor="middle" font-size="4.7" stroke-width="0.15">4</text>
<text transform="translate(680.65 340.5) rotate(90)" text-anchor="middle" font-size="4.7" stroke-width="0.15">5</text>
<text transform="translate(695.72 340.5) rotate(90)" text-anchor="middle" font-size="4.7" stroke-width="0.15">6</text>
<path d="M607.6 345.7v-2.3M622.67 345.7v-2.3M637.74 345.7v-2.3M652.81 345.7v-2.3M667.88 345.7v-2.3M682.95 345.7v-2.3M698.02 345.7v-2.3" stroke="#111" stroke-width="0.8" fill="none"/>
</g>
</svg>
</body></html>
